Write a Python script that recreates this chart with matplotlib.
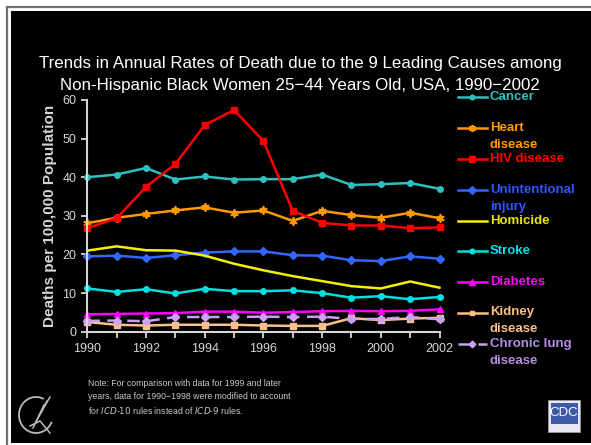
import matplotlib
matplotlib.use("Agg")
import matplotlib.pyplot as plt
from matplotlib.lines import Line2D
from matplotlib.patches import Rectangle, Arc

plt.rcParams['font.family'] = ['Liberation Sans', 'DejaVu Sans']

years = list(range(1990, 2003))

cancer = [40.0, 40.7, 42.4, 39.4, 40.2, 39.4, 39.5, 39.5, 40.7, 38.0, 38.2, 38.5, 37.0]
heart = [28.1, 29.5, 30.5, 31.4, 32.2, 30.8, 31.4, 28.7, 31.3, 30.2, 29.5, 30.8, 29.4]
hiv = [26.8, 29.4, 37.5, 43.4, 53.5, 57.4, 49.4, 31.3, 28.2, 27.5, 27.5, 26.8, 27.0]
injury = [19.5, 19.7, 19.1, 19.8, 20.5, 20.8, 20.8, 19.8, 19.7, 18.5, 18.3, 19.5, 18.9]
homicide = [21.0, 22.1, 21.1, 21.0, 19.7, 17.6, 15.9, 14.4, 13.1, 11.8, 11.2, 13.0, 11.4]
stroke = [11.2, 10.3, 11.0, 9.9, 11.1, 10.5, 10.5, 10.7, 10.0, 8.8, 9.2, 8.4, 9.0]
diabetes = [4.5, 4.6, 4.7, 4.8, 5.2, 5.2, 4.9, 5.1, 5.3, 5.4, 5.3, 5.4, 5.8]
kidney = [2.5, 1.8, 1.6, 1.8, 1.8, 1.8, 1.6, 1.5, 1.5, 3.5, 3.0, 3.4, 3.6]
lung = [2.8, 2.9, 2.7, 3.8, 3.8, 3.8, 3.9, 3.8, 3.9, 3.3, 3.3, 3.8, 3.2]

labels = ["Cancer", "Heart\ndisease", "HIV disease", "Unintentional\ninjury",
          "Homicide", "Stroke", "Diabetes", "Kidney\ndisease", "Chronic lung\ndisease"]
y_ticks = [0, 10, 20, 30, 40, 50, 60]
x_ticklabels = [1990, 1992, 1994, 1996, 1998, 2000, 2002]

title = ("Trends in Annual Rates of Death due to the 9 Leading Causes among\n"
         "Non-Hispanic Black Women 25\u221244 Years Old, USA, 1990\u22122002")
note_lines = ["Note: For comparison with data for 1999 and later",
              "years, data for 1990\u22121998 were modified to account",
              "for $\\it{ICD}$-$\\it{10}$ rules instead of $\\it{ICD}$-$\\it{9}$ rules."]

W, H = 591, 445
fig = plt.figure(figsize=(W / 100, H / 100), dpi=100, facecolor='white')


def fx(x):
    return x / W


def fy(y):
    return 1 - y / H


# slide frame: gray rule, white gap, black panel
fig.add_artist(Line2D([fx(6.5), fx(6.5)], [fy(6.5), fy(445)], color='#707070', lw=1.6,
                      zorder=-10))
fig.add_artist(Line2D([fx(6.5), fx(591)], [fy(6.5), fy(6.5)], color='#707070', lw=1.6,
                      zorder=-10))
fig.add_artist(Rectangle((fx(11), fy(443)), fx(591) - fx(11), fy(11) - fy(443),
                         transform=fig.transFigure, facecolor='black', edgecolor='none',
                         zorder=-10))

ax = fig.add_axes([fx(87.3), fy(331.7), fx(439.5) - fx(87.3), fy(100) - fy(331.7)])
ax.set_facecolor('none')
ax.set_zorder(5)

series = [
    (cancer, '#2FBFBF', dict(marker='o', ms=4, mfc='#2FBFBF'), '-'),
    (heart, '#FF9900', dict(marker=(6, 2, 0), ms=6, mew=1.3), '-'),
    (hiv, '#FF0000', dict(marker='s', ms=4.5), '-'),
    (injury, '#3366FF', dict(marker='D', ms=4.5), '-'),
    (homicide, '#F2F200', dict(marker=None), '-'),
    (stroke, '#00E0E0', dict(marker='o', ms=4), '-'),
    (diabetes, '#FF00FF', dict(marker='^', ms=5), '-'),
    (kidney, '#F8C08A', dict(marker='s', ms=4), '-'),
    (lung, '#C9A2F2', dict(marker='D', ms=4), '--'),
]
text_colors = ['#2FBFBF', '#FF9900', '#FF0000', '#3355FF', '#E6E600',
               '#00E0E0', '#FF00FF', '#F8C08A', '#B58EE0']

for vals, col, mk, ls in series:
    kw = dict(color=col, lw=1.8, ls=ls)
    if ls == '--':
        kw['dashes'] = (5, 3)
    ax.plot(years, vals, clip_on=False, **kw, **mk)

ax.set_xlim(1990, 2002)
ax.set_ylim(0, 60)
ax.set_yticks(y_ticks)
ax.set_xticks(years)
ax.set_xticklabels([str(y) if y in x_ticklabels else '' for y in years])
grey = '#D6D6D6'
for s in ['top', 'right']:
    ax.spines[s].set_visible(False)
for s in ['left', 'bottom']:
    ax.spines[s].set_color(grey)
    ax.spines[s].set_linewidth(1.5)
ax.tick_params(colors=grey, labelsize=9, length=4, width=1.3, pad=4)
ax.set_ylabel("Deaths per 100,000 Population", color=grey, fontsize=11,
              fontweight='bold', labelpad=4)

fig.text(fx(300), fy(74.5), title, ha='center', va='center', color='white',
         fontsize=12.2, linespacing=1.55)

# legend column
ys = [97.3, 127.7, 158.8, 190, 220.7, 251, 282.3, 312.5, 343.7]
for (vals, col, mk, ls), tc, lab, yy in zip(series, text_colors, labels, ys):
    kw = dict(color=col, lw=1.8, ls=ls)
    if ls == '--':
        kw['dashes'] = (5, 3)
    fig.add_artist(Line2D([fx(457.5), fx(486.5)], [fy(yy), fy(yy)], **kw))
    if mk.get('marker') is not None:
        mk2 = dict(mk)
        mk2['ms'] = mk2['ms'] * 0.85
        fig.add_artist(Line2D([fx(472)], [fy(yy)], color=col, ls='none', **mk2))
    fig.text(fx(490), fy(yy - 6), lab, color=tc, fontsize=9.5, fontweight='bold',
             ha='left', va='top', linespacing=1.55)

for i, line in enumerate(note_lines):
    fig.text(fx(88), fy(383 + i * 13.5), line, color='#C8C8C8', fontsize=6.3,
             ha='left', va='center')

# HHS emblem
fig.add_artist(Arc((fx(36), fy(415)), 34 / W, 36 / H, theta1=70, theta2=330,
                   transform=fig.transFigure, color='#BBBBBB', lw=1.3))
for k in range(3):
    fig.add_artist(Line2D([fx(33 + k * 3), fx(44 + k * 3)], [fy(428 - k * 6), fy(405 - k * 4)],
                          color='#BBBBBB', lw=1.1))
fig.add_artist(Line2D([fx(30), fx(40), fx(50)], [fy(426), fy(421), fy(433)],
                      color='#BBBBBB', lw=1.1))

# CDC badge
fig.add_artist(Rectangle((fx(548), fy(432)), 32 / W, 32 / H, transform=fig.transFigure,
                         facecolor='#E8E8F0', edgecolor='#999999', lw=0.6))
fig.add_artist(Rectangle((fx(550.5), fy(424)), 27 / W, 21 / H, transform=fig.transFigure,
                         facecolor='#3D5AA8', edgecolor='none'))
fig.text(fx(564), fy(413.5), "CDC", color='white', fontsize=9.5, ha='center', va='center')

fig.savefig("out.png", dpi=100, facecolor='white')
